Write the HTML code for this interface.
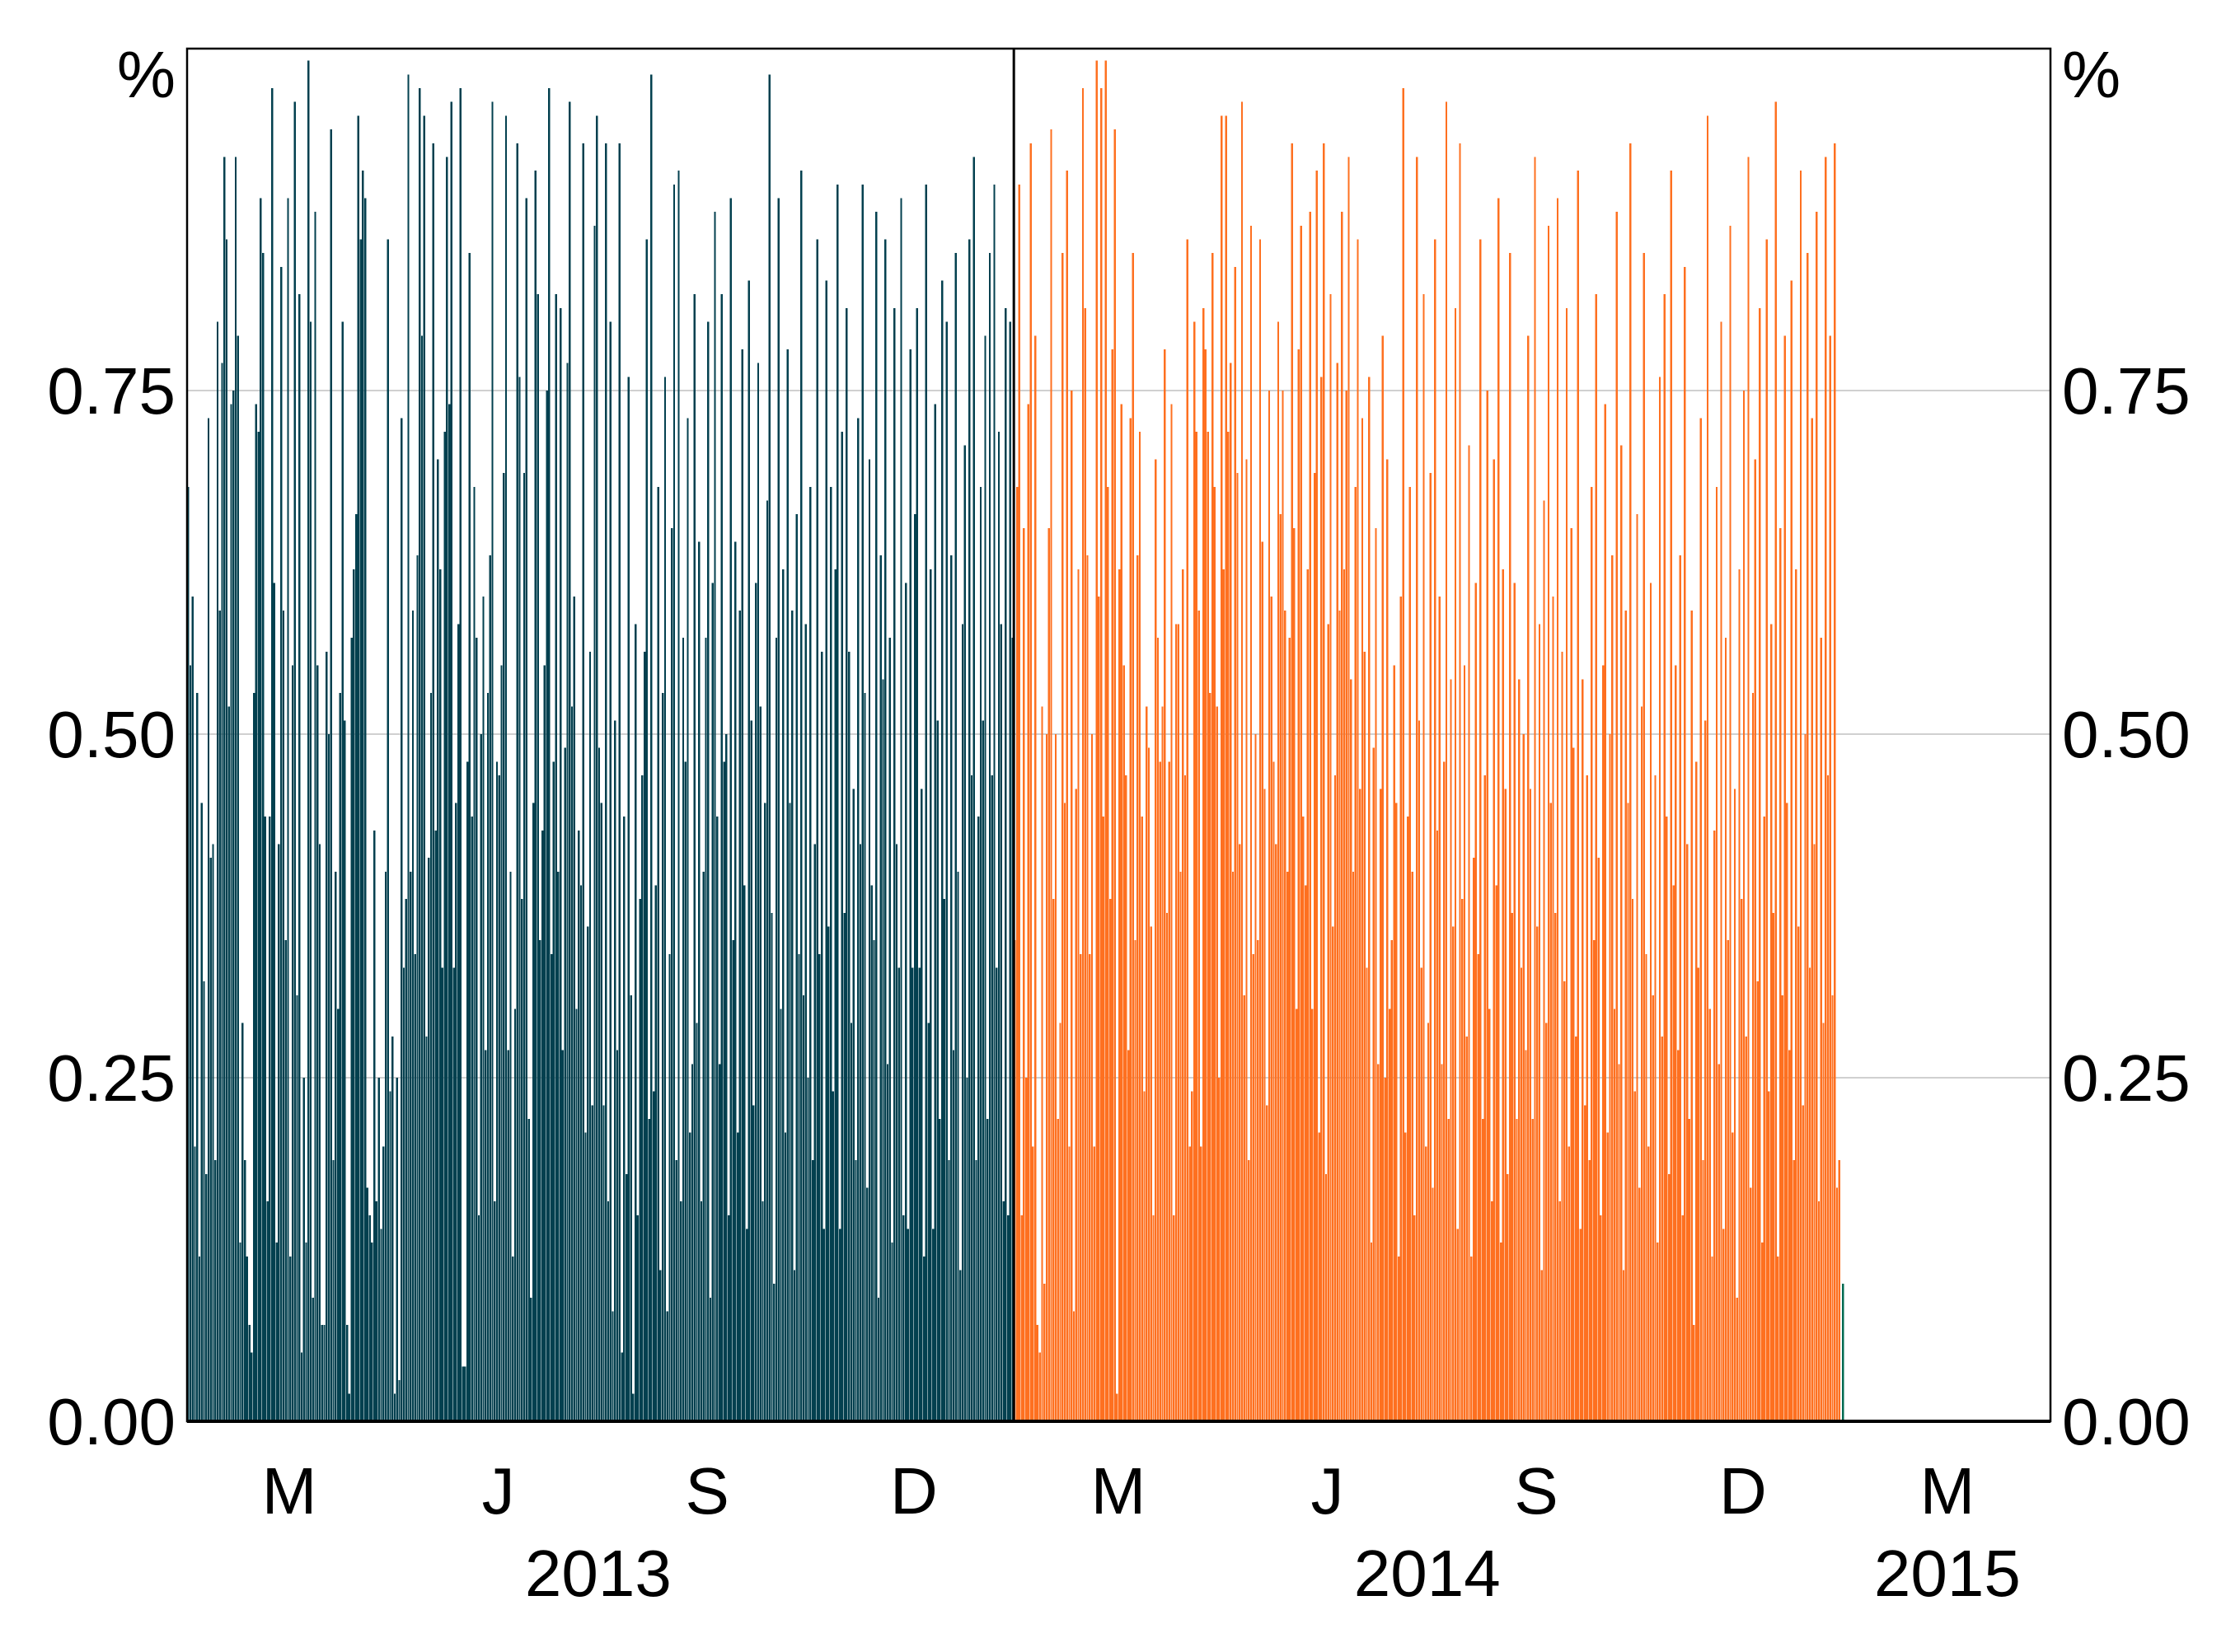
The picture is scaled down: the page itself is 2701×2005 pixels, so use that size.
<!DOCTYPE html>
<html><head><meta charset="utf-8"><style>
html,body{margin:0;padding:0;background:#fff;}
svg{display:block;font-family:"Liberation Sans",sans-serif;}
</style></head><body>
<svg id="chart" width="2701" height="2005" viewBox="0 0 2701 2005" xmlns="http://www.w3.org/2000/svg">
<g id="grid"></g>
<g id="bars" shape-rendering="crispEdges"></g>
<g id="axes"></g>
</svg>
<script>
const tealValues=[.68,.55,.60,.20,.53,.12,.45,.32,.18,.73,.41,.42,.19,.80,
.59,.77,.92,.86,.52,.74,.75,.92,.79,.13,.29,.19,.12,.07,
.05,.53,.74,.72,.89,.85,.44,.16,.44,.97,.61,.13,.42,.84,
.59,.35,.89,.12,.55,.96,.31,.82,.05,.25,.13,.99,.80,.09,
.88,.55,.42,.07,.07,.56,.50,.94,.19,.40,.30,.53,.80,.51,
.07,.02,.57,.62,.66,.95,.86,.91,.89,.17,.15,.13,.43,.16,
.25,.14,.20,.40,.86,.24,.28,.02,.25,.03,.73,.33,.38,.98,
.40,.59,.34,.63,.97,.79,.95,.28,.41,.53,.93,.43,.70,.62,
.33,.72,.92,.74,.96,.33,.45,.58,.97,.04,.04,.48,.85,.44,
.68,.57,.15,.50,.60,.27,.53,.63,.96,.16,.48,.47,.55,.69,
.95,.27,.40,.12,.30,.93,.76,.38,.69,.89,.22,.09,.45,.91,
.82,.35,.43,.55,.75,.97,.34,.48,.82,.40,.81,.27,.49,.77,
.96,.52,.60,.30,.43,.39,.93,.21,.36,.56,.23,.87,.95,.49,
.45,.23,.93,.16,.80,.08,.51,.27,.93,.05,.44,.18,.76,.31,
.02,.58,.15,.38,.47,.56,.86,.22,.98,.24,.39,.68,.11,.53,
.76,.08,.34,.65,.90,.19,.91,.16,.57,.48,.73,.21,.26,.82,
.29,.64,.16,.40,.57,.80,.09,.61,.88,.44,.26,.82,.48,.50,
.15,.89,.35,.64,.21,.59,.78,.39,.14,.83,.51,.23,.61,.77,
.52,.16,.45,.67,.98,.37,.10,.57,.89,.30,.62,.21,.78,.45,
.59,.11,.66,.34,.91,.31,.58,.25,.68,.19,.42,.86,.34,.56,
.14,.83,.36,.68,.24,.62,.90,.14,.72,.37,.81,.56,.29,.46,
.19,.73,.42,.90,.53,.17,.70,.39,.35,.88,.09,.63,.54,.86,
.26,.57,.13,.81,.42,.33,.89,.15,.61,.14,.78,.33,.66,.81,
.33,.46,.12,.90,.29,.62,.14,.74,.51,.22,.83,.38,.80,.19,
.63,.27,.85,.40,.11,.58,.71,.25,.86,.47,.92,.19,.44,.68,
.51,.79,.22,.85,.47,.90,.33,.72,.58,.16,.81,.15,.80,.57];
const orangeValues=[.35,.68,.90,.15,.65,.25,.74,.93,.20,.79,.07,.05,.52,.10,
.50,.65,.94,.38,.50,.22,.29,.85,.45,.91,.20,.75,.08,.46,
.62,.34,.97,.81,.63,.34,.50,.20,.99,.60,.97,.44,.99,.68,
.38,.78,.94,.02,.62,.74,.55,.47,.27,.73,.85,.35,.63,.72,
.44,.24,.52,.49,.36,.15,.70,.57,.48,.52,.78,.37,.48,.74,
.15,.58,.58,.40,.62,.47,.86,.20,.24,.80,.72,.59,.20,.81,
.78,.72,.53,.85,.68,.52,.25,.95,.62,.95,.72,.77,.40,.84,
.69,.42,.96,.31,.70,.19,.87,.34,.50,.35,.86,.64,.46,.23,
.75,.60,.48,.42,.80,.66,.75,.59,.40,.57,.93,.65,.30,.78,
.87,.44,.39,.62,.88,.30,.69,.91,.21,.76,.93,.18,.58,.82,
.36,.47,.77,.59,.88,.62,.75,.92,.54,.40,.68,.86,.46,.73,
.56,.33,.76,.13,.49,.65,.26,.46,.79,.25,.70,.30,.35,.55,
.45,.12,.60,.97,.21,.44,.68,.40,.15,.92,.51,.33,.82,.20,
.29,.69,.17,.86,.43,.60,.26,.48,.96,.22,.54,.36,.81,.14,
.93,.38,.55,.28,.71,.12,.41,.61,.34,.86,.22,.47,.75,.30,
.16,.70,.39,.89,.13,.62,.46,.18,.85,.37,.61,.22,.54,.33,
.50,.27,.79,.46,.22,.92,.36,.58,.11,.67,.29,.87,.45,.60,
.37,.89,.16,.56,.32,.81,.20,.65,.49,.28,.91,.14,.54,.23,
.47,.19,.68,.35,.82,.41,.15,.55,.74,.21,.50,.63,.30,.88,
.26,.71,.11,.59,.45,.93,.38,.24,.66,.17,.52,.85,.34,.20,
.61,.31,.47,.13,.76,.28,.82,.44,.18,.91,.39,.55,.27,.63,
.15,.84,.42,.22,.59,.07,.48,.33,.73,.19,.51,.95,.30,.12,
.43,.68,.26,.80,.14,.57,.35,.87,.21,.46,.09,.62,.38,.75,
.28,.92,.17,.53,.70,.32,.81,.13,.44,.86,.24,.58,.37,.96,
.12,.65,.31,.79,.45,.27,.83,.19,.62,.36,.91,.23,.50,.85,
.33,.73,.42,.88,.16,.57,.29,.92,.47,.79,.31,.93,.17,.19];
const greenValues=[0.10];
const yTicks=[0,0.25,0.5,0.75];
const yTickLabels=["0.00","0.25","0.50","0.75"];
const monthTickDays=[45,137,229,320,410,502,594,685,775];
const monthLabels=["M","J","S","D","M","J","S","D","M"];
const yearLabelDays=[181,546,775];
const yearLabels=["2013","2014","2015"];

const L=227,R=2488,T=59,B=1725,DAY=2.756;
const x=d=>L+d*DAY;
const y=v=>B-v*1668;
const NS="http://www.w3.org/2000/svg";
function mk(tag,attrs,parent,text){const e=document.createElementNS(NS,tag);for(const k in attrs)e.setAttribute(k,attrs[k]);if(text!==undefined)e.textContent=text;parent.appendChild(e);return e;}
const grid=document.getElementById('grid'),bars=document.getElementById('bars'),axes=document.getElementById('axes');

yTicks.forEach((t,i)=>{
  if(t>0){const g=mk('line',{x1:L,x2:R,y1:y(t),y2:y(t),stroke:'#d0d0d0','stroke-width':2},grid);
  
  }
  const a=mk('text',{x:213,y:y(t)+28,'text-anchor':'end','font-size':80,fill:'#000'},axes,yTickLabels[i]);
  
  
  const b=mk('text',{x:2502,y:y(t)+28,'text-anchor':'start','font-size':80,fill:'#000'},axes,yTickLabels[i]);
  
  
});
function series(vals,start,color,name){
  vals.forEach((v,i)=>{
    const r=mk('rect',{x:x(start+i),y:y(v),width:DAY-0.4,height:B-y(v),fill:color},bars);
    
    
  });
}
series(tealValues,0,'#03404f','teal-2013');
series(orangeValues,364,'#fe7020','orange-2014');
series(greenValues,728.6,'#006a50','green-2015');

const frame=mk('rect',{x:L,y:T,width:R-L,height:B-T,fill:'none',stroke:'#000','stroke-width':2.5},axes);


const base=mk('line',{x1:L,x2:R,y1:B,y2:B,stroke:'#000','stroke-width':4},axes);


const div=mk('line',{x1:x(364),x2:x(364),y1:T,y2:B,stroke:'#000','stroke-width':3},axes);



monthTickDays.forEach((d,i)=>{
  const t=mk('text',{x:x(d),y:1837,'text-anchor':'middle','font-size':80,fill:'#000'},axes,monthLabels[i]);
  
  
});
yearLabelDays.forEach((d,i)=>{
  const t=mk('text',{x:x(d),y:1937,'text-anchor':'middle','font-size':80,fill:'#000'},axes,yearLabels[i]);
  
  
});
const p1=mk('text',{x:213,y:118,'text-anchor':'end','font-size':80,fill:'#000'},axes,'%');


const p2=mk('text',{x:2502,y:118,'text-anchor':'start','font-size':80,fill:'#000'},axes,'%');


</script>
</body></html>
